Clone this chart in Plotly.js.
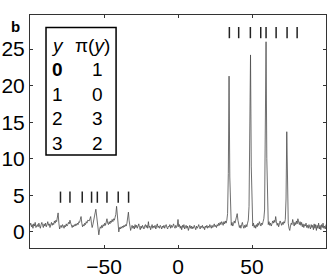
<!DOCTYPE html>
<html><head><meta charset="utf-8">
<script src="https://cdn.plot.ly/plotly-3.0.1.min.js"></script>
<style>html,body{margin:0;padding:0;background:#fff;}#chart{width:329px;height:277px;}</style>
</head><body><div id="chart"></div>
<script>
// signal sampled every 0.5 from -100 to 100 (blocks of 10 units)
const signalStart = -100;
const signalStep = 0.5;
const signal = [
  // -100 .. -90.5
  0.9,1.2,0.7,1.0,0.5,1.1,0.8,1.3,0.6,0.9,1.0,0.7,1.2,0.8,0.5,1.0,1.3,0.9,0.6,1.1,
  // -90 .. -80.5
  0.8,1.2,0.7,1.0,1.4,0.9,1.1,0.6,1.0,1.3,0.9,1.2,1.0,1.5,1.2,1.6,1.4,1.9,2.6,1.2,
  // -80 .. -70.5
  0.4,0.7,0.9,0.6,1.0,0.8,0.5,0.9,0.7,1.1,0.8,1.0,1.3,1.1,1.6,1.2,0.8,0.6,0.9,0.7,
  // -70 .. -60.5
  1.0,0.8,1.1,0.9,1.2,1.0,1.4,1.3,1.7,2.1,1.2,0.7,1.0,0.8,1.2,1.0,1.4,1.2,1.6,1.5,
  // -60 .. -50.5
  1.5,1.8,2.1,1.2,0.6,1.0,1.4,2.0,2.6,3.1,2.0,0.9,0.1,-0.4,0.3,0.7,0.5,0.9,0.6,1.0,
  // -50 .. -40.5
  0.8,1.2,0.9,1.3,1.8,1.2,1.0,1.4,1.1,1.5,1.3,1.7,1.4,1.8,1.6,2.0,2.4,3.5,2.2,0.8,
  // -40 .. -30.5
  0.0,0.6,0.4,0.7,0.5,0.8,0.6,0.9,0.7,1.0,0.8,1.2,1.9,2.7,1.5,0.5,0.2,0.6,0.9,0.5,
  // -30 .. -20.5
  0.8,0.4,1.0,0.6,0.9,0.5,0.7,1.1,0.6,0.3,0.8,0.5,0.9,0.7,0.4,0.8,1.0,0.6,0.9,0.5,
  // -20 .. -10.5
  1.4,0.6,0.8,0.3,0.7,1.0,0.5,0.8,0.6,0.9,0.4,0.7,1.1,0.6,0.8,0.5,0.9,0.7,0.4,0.8,
  // -10 .. -0.5
  0.6,0.9,0.5,0.8,1.0,0.6,0.4,0.8,0.7,1.0,0.5,0.9,0.6,0.8,1.1,0.7,0.5,0.9,0.6,0.8,
  // 0 .. 9.5
  1.7,0.7,1.0,0.5,0.8,0.3,0.9,0.6,1.0,0.4,0.7,0.9,0.5,0.8,0.2,0.6,0.9,0.5,0.8,0.4,
  // 10 .. 19.5
  0.7,0.5,0.9,0.6,0.3,0.8,0.5,0.7,1.0,0.6,0.4,0.8,0.6,0.9,0.5,0.7,0.3,0.8,0.6,0.9,
  // 20 .. 29.5
  0.5,0.8,0.6,1.0,0.7,0.5,0.9,0.6,0.8,1.1,0.7,0.9,0.6,1.0,0.8,1.2,0.9,1.3,1.0,1.4,
  // 30 .. 39.5
  1.2,0.9,1.4,1.1,1.5,1.2,1.6,2.5,8.0,21.3,7.5,2.2,0.9,1.3,0.8,1.1,1.5,1.2,1.8,2.2,
  // 40 .. 49.5
  2.5,1.6,1.0,0.6,0.9,0.5,1.0,1.3,0.8,0.5,0.9,0.6,1.0,0.7,1.2,1.6,3.5,12.0,24.2,9.0,
  // 50 .. 59.5
  2.0,0.8,1.2,0.6,0.9,0.5,1.0,0.7,1.2,0.9,1.4,1.1,0.8,1.2,1.0,1.4,1.8,3.0,12.0,26.0,
  // 60 .. 69.5
  10.0,2.5,1.0,1.4,0.9,1.2,0.8,1.1,1.5,1.2,1.6,1.3,2.1,1.4,0.9,1.2,0.7,1.1,1.5,1.2,
  // 70 .. 79.5
  0.9,1.3,1.0,1.4,1.2,1.7,4.5,13.7,5.0,1.2,0.5,0.2,0.8,1.2,1.0,1.7,1.2,0.8,1.3,1.0,
  // 80 .. 89.5
  1.5,1.1,1.8,1.3,1.0,1.4,0.9,1.3,0.7,1.1,0.6,1.0,0.8,1.2,0.6,0.9,0.5,1.0,0.7,0.4,
  // 90 .. 100
  1.0,0.6,0.9,0.3,1.1,0.5,1.0,0.2,0.9,0.5,1.2,0.4,0.9,0.3,1.0,0.6,1.2,0.5,0.8,0.4,1.0
];

const leftMarksX = [-79.4, -73.0, -64.7, -58.4, -54.5, -48.0, -40.4, -33.4];
const leftMarksY = [4.75, 4.75, 4.75, 4.75, 4.75, 4.75, 4.75, 4.75];
const rightMarksX = [34.7, 41.0, 48.9, 55.9, 59.5, 66.3, 73.7, 80.5];
const rightMarksY = [27.25, 27.25, 27.25, 27.25, 27.25, 27.25, 27.25, 27.25];

const xTicks = [-50, 0, 50];
const yTicks = [0, 5, 10, 15, 20, 25];

const tableHeader = ['<i>y</i>', 'π(<i>y</i>)'];
const tableY = ['<b>0</b>', '1', '2', '3'];
const tablePi = ['1', '0', '3', '2'];

const FONT = 'Liberation Sans, Arial, Helvetica, sans-serif';

const traces = [
  {type:'scatter', mode:'lines', x0: signalStart, dx: signalStep, y: signal,
   line:{color:'#4a4a4a', width:0.8}, hoverinfo:'skip'},
  {type:'scatter', mode:'markers', x: leftMarksX, y: leftMarksY,
   marker:{symbol:'line-ns', size:8, line:{width:1.5, color:'#222'}}},
  {type:'scatter', mode:'markers', x: rightMarksX, y: rightMarksY,
   marker:{symbol:'line-ns', size:8, line:{width:1.5, color:'#222'}}}
];

// table layout in paper coordinates
const colX = [0.0937, 0.229];
const headerX = [0.094, 0.2103];
const headerYPos = 0.870;
const rowYPos = [0.766, 0.6605, 0.555, 0.4497];
const annotations = [];
annotations.push({xref:'paper', yref:'paper', x:headerX[0], y:headerYPos, text:tableHeader[0], showarrow:false, xanchor:'center', yanchor:'middle', font:{family:FONT, size:19, color:'#000'}});
annotations.push({xref:'paper', yref:'paper', x:headerX[1], y:headerYPos, text:tableHeader[1], showarrow:false, xanchor:'center', yanchor:'middle', font:{family:FONT, size:19, color:'#000'}});
for (let i = 0; i < tableY.length; i++) {
  annotations.push({xref:'paper', yref:'paper', x:colX[0], y:rowYPos[i], text:tableY[i], showarrow:false, xanchor:'center', yanchor:'middle', font:{family:FONT, size:19, color:'#000'}});
  annotations.push({xref:'paper', yref:'paper', x:colX[1], y:rowYPos[i], text:tablePi[i], showarrow:false, xanchor:'center', yanchor:'middle', font:{family:FONT, size:19, color:'#000'}});
}
annotations.push({xref:'paper', yref:'paper', x:-0.05, y:0.911, text:'<b>b</b>', showarrow:false, xanchor:'center', yanchor:'bottom', borderpad:0, font:{family:FONT, size:15, color:'#000'}});

const layout = {
  width:329, height:277,
  margin:{l:30, r:3, t:15, b:29, pad:0},
  paper_bgcolor:'#fff', plot_bgcolor:'#fff',
  showlegend:false,
  xaxis:{range:[-100,100], tickvals:xTicks, ticktext:xTicks.map(v => v < 0 ? '\u2212' + Math.abs(v) : String(v)),
         ticks:'inside', ticklen:3, tickcolor:'#333', showline:true, linecolor:'#333', linewidth:1, mirror:'ticks',
         showgrid:false, zeroline:false, tickfont:{family:FONT, size:21, color:'#000'}},
  yaxis:{range:[-2.2,29.66], tickvals:yTicks, ticktext:yTicks.map(String),
         ticks:'inside', ticklen:3, tickcolor:'#333', showline:true, linecolor:'#333', linewidth:1, mirror:'ticks',
         showgrid:false, zeroline:false, tickfont:{family:FONT, size:21, color:'#000'}},
  shapes:[{type:'rect', xref:'paper', yref:'paper', x0:0.0541, x1:0.2908, y0:0.3989, y1:0.9466,
           line:{color:'#000', width:1.5}, fillcolor:'rgba(0,0,0,0)'}],
  annotations: annotations
};

Plotly.newPlot('chart', traces, layout, {displayModeBar:false, staticPlot:true});
</script>
</body></html>
